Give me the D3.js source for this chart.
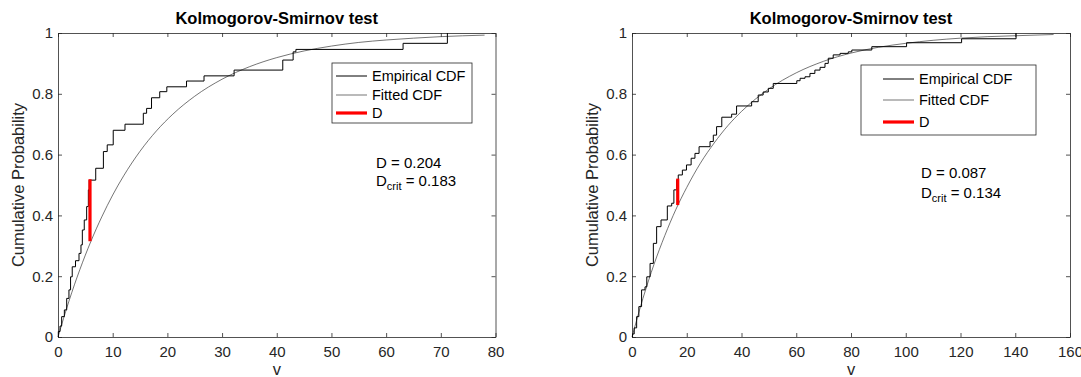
<!DOCTYPE html>
<html>
<head>
<meta charset="utf-8">
<script src="https://cdn.jsdelivr.net/npm/d3@7"></script>
<style>
  body { margin: 0; background: #fff; }
  text { font-family: "Liberation Sans", Arial, Helvetica, sans-serif; }
</style>
</head>
<body>
<svg id="chart" width="1081" height="377"></svg>
<script>
// values
const yTicks = [0, 0.2, 0.4, 0.6, 0.8, 1];
const leftTicksX = [0, 10, 20, 30, 40, 50, 60, 70, 80];
const rightTicksX = [0, 20, 40, 60, 80, 100, 120, 140, 160];

// empirical CDF: [x where it steps, value after step]
const leftEcdf = [[0,0],[0.06,0.018],[0.37,0.036],[0.67,0.067],[1.16,0.089],[1.59,0.127],[2.0,0.155],
  [2.3,0.198],[2.6,0.231],[3.2,0.251],[3.84,0.275],[4.2,0.303],[4.45,0.352],[4.8,0.385],[5.24,0.429],
  [5.55,0.484],[5.7,0.516],[6.9,0.555],[8.3,0.61],[9.0,0.632],[10.1,0.68],[12.25,0.70],[15.6,0.736],
  [16.2,0.752],[17.1,0.787],[18.6,0.807],[19.9,0.823],[23.5,0.842],[26.7,0.859],[32.2,0.878],
  [41.1,0.911],[43.0,0.938],[43.5,0.946],[63.1,0.966],[71.2,1.0]];
const leftFit = [[0,0],[2,0.118],[4,0.222],[6,0.314],[8,0.395],[10,0.467],[12,0.530],[15,0.611],
  [18,0.678],[21,0.733],[25,0.792],[30,0.848],[35,0.889],[40,0.919],[45,0.941],[50,0.957],
  [55,0.969],[60,0.977],[65,0.983],[70,0.988],[78,0.993]];
const leftD = {x: 5.85, lo: 0.315, hi: 0.519, d: "0.204", crit: "0.183"};

const rightEcdf = [[0,0],[0.2,0.01],[0.8,0.03],[1.7,0.067],[2.5,0.1],[3.5,0.155],[4.75,0.165],
  [5.4,0.198],[6.6,0.242],[7.8,0.308],[9.0,0.363],[10.6,0.385],[12.9,0.431],[14.5,0.44],[15.3,0.484],
  [16.3,0.516],[16.9,0.533],[18.4,0.549],[19.9,0.566],[21.6,0.588],[23.0,0.604],[24.5,0.626],
  [28.5,0.643],[29.7,0.664],[30.9,0.692],[32.8,0.723],[36.4,0.733],[38.2,0.760],[43.7,0.774],
  [46.1,0.796],[47.9,0.806],[49.8,0.818],[51.6,0.834],[60.2,0.843],[61.4,0.851],[63.2,0.856],
  [65.0,0.867],[66.8,0.878],[68.7,0.887],[70.5,0.900],[71.7,0.917],[73.5,0.928],[76.0,0.933],
  [79.0,0.938],[80.3,0.944],[87.6,0.955],[100.3,0.968],[120.4,0.981],[140.3,1.0]];
const rightFit = [[0,0],[4,0.127],[8,0.238],[12,0.334],[16,0.419],[20,0.492],[25,0.572],[30,0.638],
  [35,0.695],[40,0.742],[50,0.816],[60,0.869],[70,0.907],[80,0.934],[90,0.953],[100,0.966],
  [110,0.976],[120,0.983],[130,0.988],[140,0.991],[154,0.995]];
const rightD = {x: 16.7, lo: 0.434, hi: 0.521, d: "0.087", crit: "0.134"};

const legendLabels = ["Empirical CDF", "Fitted CDF", "D"];

const axisColor = "#262626";
const svg = d3.select("#chart");

function drawPanel(p) {
  const x = d3.scaleLinear().domain([0, p.xMax]).range([p.left, p.right]);
  const y = d3.scaleLinear().domain([0, 1]).range([337, 33]);
  const g = svg.append("g");

  const bottom = g.append("g").attr("transform", "translate(0,337)")
    .call(d3.axisBottom(x).tickValues(p.ticks).tickSize(-4).tickSizeOuter(0).tickPadding(9));
  const top = g.append("g").attr("transform", "translate(0,33)")
    .call(d3.axisTop(x).tickValues(p.ticks).tickSize(-4).tickSizeOuter(0).tickFormat(""));
  const left = g.append("g").attr("transform", `translate(${p.left},0)`)
    .call(d3.axisLeft(y).tickValues(yTicks).tickSize(-4).tickSizeOuter(0).tickPadding(5)
      .tickFormat(d3.format("~g")));
  const right = g.append("g").attr("transform", `translate(${p.right},0)`)
    .call(d3.axisRight(y).tickValues(yTicks).tickSize(-4).tickSizeOuter(0).tickFormat(""));
  [bottom, top, left, right].forEach(a => {
    a.selectAll("path, line").attr("stroke", axisColor).attr("stroke-width", 0.8);
    a.selectAll("text").attr("fill", axisColor).style("font-size", "15px")
      .style("font-family", '"Liberation Sans", Arial, sans-serif');
  });

  // title and labels
  g.append("text").attr("x", (p.left + p.right) / 2).attr("y", 24)
    .attr("text-anchor", "middle").style("font-size", "16.5px").style("font-weight", "bold")
    .text("Kolmogorov-Smirnov test");
  g.append("text").attr("x", (p.left + p.right) / 2).attr("y", 375)
    .attr("text-anchor", "middle").attr("fill", axisColor).style("font-size", "16.5px").text("v");
  g.append("text").attr("transform", `translate(${p.left - 34},185) rotate(-90)`)
    .attr("text-anchor", "middle").attr("fill", axisColor).style("font-size", "16.5px")
    .text("Cumulative Probability");

  // fitted CDF
  g.append("path").datum(p.fit)
    .attr("d", d3.line().x(d => x(d[0])).y(d => y(d[1])).curve(d3.curveMonotoneX))
    .attr("fill", "none").attr("stroke", "#3a3a3a").attr("stroke-width", 0.7);

  // empirical CDF
  g.append("path").datum(p.ecdf)
    .attr("d", d3.line().x(d => x(d[0])).y(d => y(d[1])).curve(d3.curveStepAfter))
    .attr("fill", "none").attr("stroke", "#000").attr("stroke-width", 1);

  // D segment
  g.append("line").attr("x1", x(p.D.x)).attr("x2", x(p.D.x))
    .attr("y1", y(p.D.lo)).attr("y2", y(p.D.hi))
    .attr("stroke", "#ff0000").attr("stroke-width", 3.2);

  // legend
  const lg = p.legend;
  g.append("rect").attr("x", lg.x).attr("y", lg.y).attr("width", lg.w).attr("height", lg.h)
    .attr("fill", "#fff").attr("stroke", axisColor).attr("stroke-width", 0.8);
  const styles = [
    {stroke: "#000", w: 1},
    {stroke: "#3a3a3a", w: 0.7},
    {stroke: "#ff0000", w: 3.2}
  ];
  legendLabels.forEach((lab, i) => {
    const cy = lg.rows[i];
    g.append("line").attr("x1", lg.lx).attr("x2", lg.lx + 31).attr("y1", cy).attr("y2", cy)
      .attr("stroke", styles[i].stroke).attr("stroke-width", styles[i].w);
    g.append("text").attr("x", lg.lx + 36).attr("y", cy).attr("dy", "0.36em")
      .style("font-size", "14.5px").attr("fill", "#000").text(lab);
  });

  // statistic annotation
  g.append("text").attr("x", p.note.x).attr("y", p.note.y1).attr("dy", "0.36em")
    .style("font-size", "15px").text("D = " + p.D.d);
  const t2 = g.append("text").attr("x", p.note.x).attr("y", p.note.y2).attr("dy", "0.36em")
    .style("font-size", "15px");
  t2.append("tspan").text("D");
  t2.append("tspan").attr("dy", "4").style("font-size", "11px").text("crit");
  t2.append("tspan").attr("dy", "-4").text(" = " + p.D.crit);
}

drawPanel({
  left: 58, right: 495.5, xMax: 80, ticks: leftTicksX,
  ecdf: leftEcdf, fit: leftFit, D: leftD,
  legend: {x: 332, y: 63, w: 140, h: 60, lx: 336, rows: [76, 95, 113]},
  note: {x: 376, y1: 163, y2: 181}
});
drawPanel({
  left: 632, right: 1070, xMax: 160, ticks: rightTicksX,
  ecdf: rightEcdf, fit: rightFit, D: rightD,
  legend: {x: 861, y: 65, w: 175, h: 70, lx: 883, rows: [79, 100, 122]},
  note: {x: 921, y1: 173, y2: 193}
});
</script>
</body>
</html>
